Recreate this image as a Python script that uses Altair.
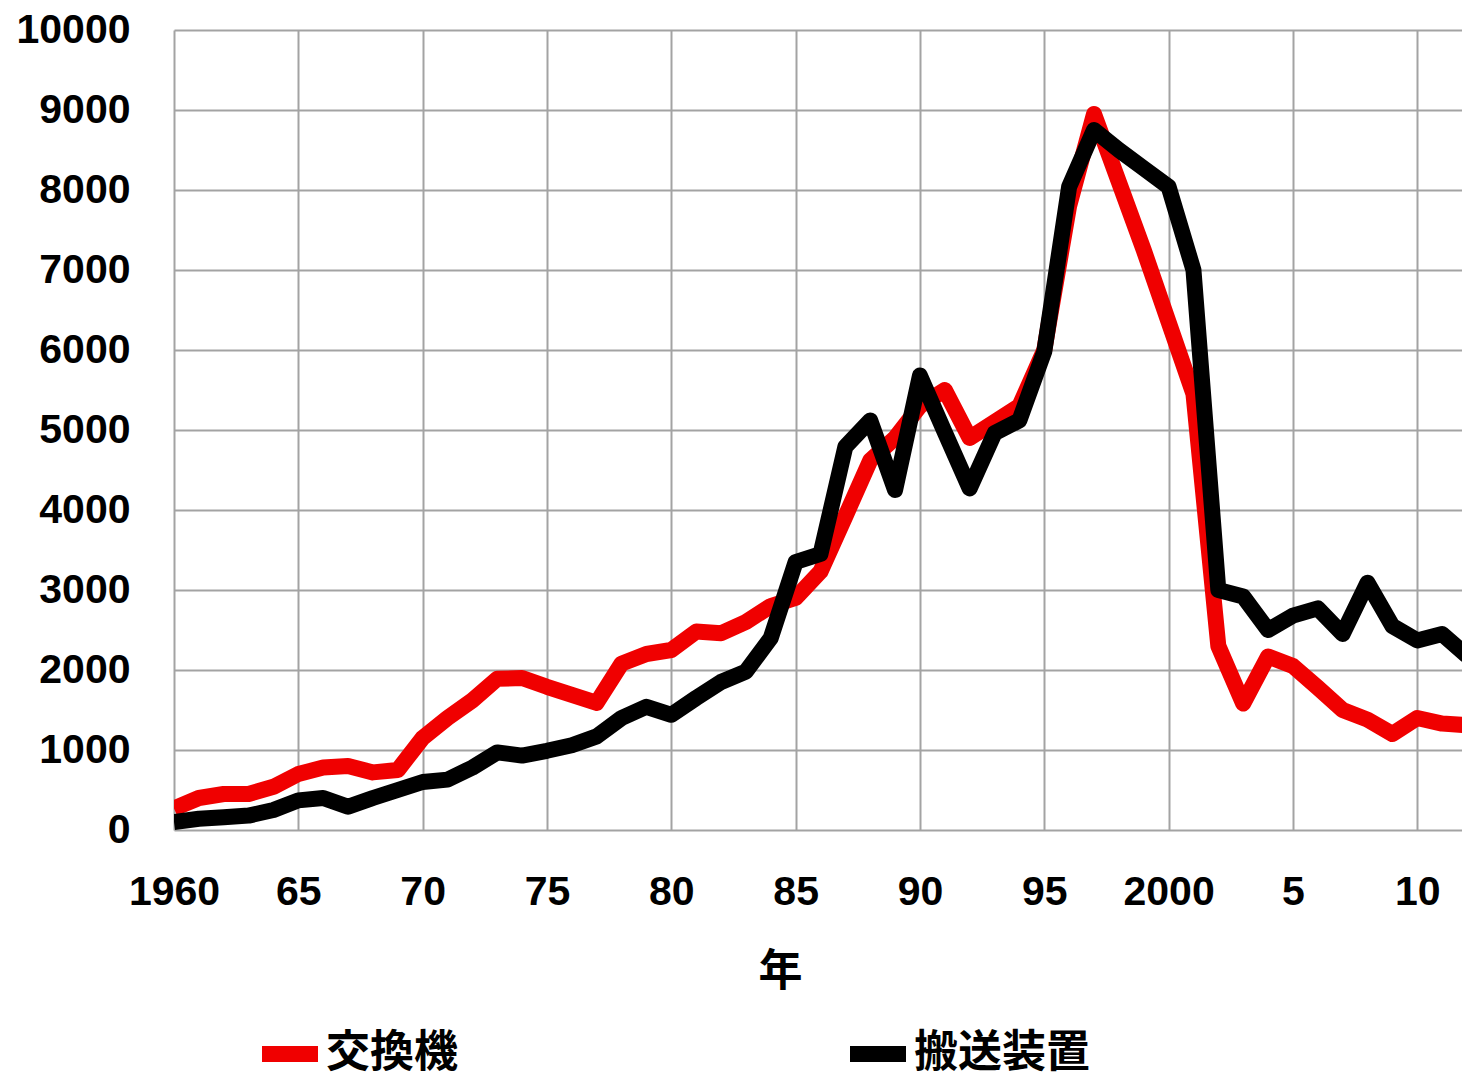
import altair as alt
import pandas as pd

# Yearly values, 1960-2012
years = list(range(1960, 2013))

# 交換機 (red)
switching = [
    270, 400, 450, 450, 540, 700, 780, 800, 720, 750,
    1150, 1400, 1620, 1890, 1900, 1790, 1690, 1590, 2080, 2200,
    2250, 2480, 2460, 2600, 2800, 2900, 3230, 3920, 4620, 4900,
    5300, 5500, 4900, 5100, 5300, 6000, 7800, 8950, 8100, 7250,
    6350, 5450, 2300, 1580, 2170, 2050, 1780, 1500, 1380, 1200,
    1400, 1330, 1310,
]

# 搬送装置 (black)
transmission = [
    100, 140, 160, 180, 250, 370, 400, 290, 400, 500,
    600, 630, 780, 970, 930, 990, 1060, 1170, 1400, 1540,
    1440, 1650, 1850, 1980, 2400, 3350, 3450, 4790, 5120, 4250,
    5680, 4970, 4270, 4960, 5120, 5980, 8040, 8750, 8500, 8270,
    8040, 7000, 3000, 2920, 2500, 2680, 2770, 2450, 3090, 2550,
    2370, 2450, 2180,
]

series_names = ["交換機", "搬送装置"]
series_colors = ["#f00000", "#000000"]

x_ticks = list(range(1960, 2011, 5))
y_ticks = list(range(0, 10001, 1000))

df = pd.DataFrame({
    "year": years * 2,
    "value": switching + transmission,
    "series": [series_names[0]] * len(years) + [series_names[1]] * len(years),
})

color = alt.Color(
    "series:N",
    scale=alt.Scale(domain=series_names, range=series_colors),
    legend=alt.Legend(
        title=None,
        orient="none",
        legendX=80,
        legendY=988,
        direction="horizontal",
        columns=2,
        columnPadding=360,
        symbolType="stroke",
        symbolSize=3136,
        symbolStrokeWidth=16,
        labelFont="Noto Sans CJK JP",
        labelFontWeight="bold",
        labelFontSize=44,
        labelColor="#000000",
        labelOffset=0,
        labelLimit=400,
        padding=0,
    ),
)

x_enc = alt.X(
    "year:Q",
    scale=alt.Scale(domain=[1960, 2011.8], nice=False, zero=False),
    axis=alt.Axis(
        values=x_ticks,
        labelExpr="(datum.value == 1960 || datum.value == 2000) ? '' + datum.value : '' + (datum.value % 100)",
        title="年",
        titleFont="Noto Sans CJK JP",
        titleFontWeight="bold",
        titleFontSize=44,
        titleColor="#000000",
        titleX=606,
        titleY=142,
        titleAlign="center",
        titleBaseline="middle",
        labelFont="Liberation Sans",
        labelFontWeight="bold",
        labelFontSize=41,
        labelColor="#000000",
        labelPadding=42,
        labelBaseline="top",
        labelFlush=False,
        labelOverlap=False,
        ticks=False,
        domain=False,
        grid=True,
        gridColor="#a3a3a3",
        gridWidth=2,
    ),
)

y_enc = alt.Y(
    "value:Q",
    scale=alt.Scale(domain=[0, 10000], nice=False),
    axis=alt.Axis(
        values=y_ticks,
        format="d",
        title=None,
        labelFont="Liberation Sans",
        labelFontWeight="bold",
        labelFontSize=41,
        labelColor="#000000",
        labelPadding=44,
        labelAlign="right",
        labelBaseline="middle",
        labelFlush=False,
        labelOverlap=False,
        ticks=False,
        domain=False,
        grid=True,
        gridColor="#a3a3a3",
        gridWidth=2,
    ),
)

base = alt.Chart(df).mark_line(
    strokeWidth=16, strokeJoin="round", strokeCap="butt", clip=True
).encode(x=x_enc, y=y_enc, color=color)

# black series drawn over the red one
red_line = base.transform_filter(alt.datum.series == series_names[0])
black_line = base.transform_filter(alt.datum.series == series_names[1])

chart = (
    alt.layer(red_line, black_line)
    .properties(
        width=1288,
        height=800,
        padding={"left": 174, "top": 30, "right": 0, "bottom": 251},
        autosize=alt.AutoSizeParams(type="none"),
        background="#ffffff",
    )
    .configure_view(strokeWidth=0)
)

chart.save("out.html", embed_options={"renderer": "svg", "actions": False})
